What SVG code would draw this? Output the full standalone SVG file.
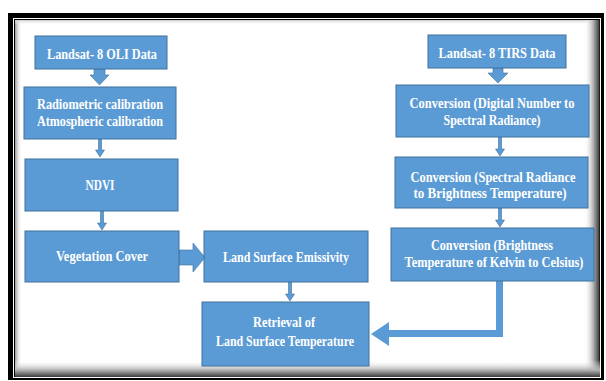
<svg xmlns="http://www.w3.org/2000/svg" width="606" height="381" viewBox="0 0 606 381">
<defs>
<style>
.box{fill:#5B9BD5;stroke:#41719C;stroke-width:1}
.arr{fill:#5B9BD5;stroke:#41719C;stroke-width:0.6}
.t{font-family:"Liberation Serif","Times New Roman",serif;font-weight:bold;font-size:14px;fill:#ffffff;text-anchor:middle}
</style>
<linearGradient id="gR" x1="0" y1="0" x2="1" y2="0">
<stop offset="0" stop-color="#ffffff" stop-opacity="0"/>
<stop offset="0.6" stop-color="#b0b0b0"/>
<stop offset="1" stop-color="#3a3a3a"/>
</linearGradient>
<linearGradient id="gB" x1="0" y1="0" x2="0" y2="1">
<stop offset="0" stop-color="#ffffff" stop-opacity="0"/>
<stop offset="0.6" stop-color="#b0b0b0"/>
<stop offset="1" stop-color="#3a3a3a"/>
</linearGradient>
<linearGradient id="gL" x1="1" y1="0" x2="0" y2="0">
<stop offset="0" stop-color="#ffffff" stop-opacity="0"/>
<stop offset="1" stop-color="#999999"/>
</linearGradient>
<linearGradient id="gT" x1="0" y1="1" x2="0" y2="0">
<stop offset="0" stop-color="#ffffff" stop-opacity="0"/>
<stop offset="1" stop-color="#cccccc"/>
</linearGradient>
</defs>
<rect x="0" y="0" width="606" height="381" fill="#ffffff"/>
<g id="frame">
<rect x="8" y="13" width="596" height="367" fill="#000000"/>
<rect x="13" y="18" width="588" height="360" fill="#ffffff"/>
<rect x="14.5" y="19.5" width="585" height="357" fill="#ffffff" stroke="#000000" stroke-width="1"/>
<rect x="15" y="20" width="7" height="356" fill="url(#gL)"/>
<rect x="15" y="20" width="584" height="5" fill="url(#gT)"/>
<rect x="584" y="20" width="15.5" height="357" fill="url(#gR)"/>
<rect x="15" y="360" width="585" height="17" fill="url(#gB)"/>
</g>
<g id="connectors">
<polygon class="arr" points="94,69 105,69 105,75 109,75 99.5,85 90,75 94,75"/>
<polygon class="arr" points="493,68 503,68 503,73 508,73 498,83 488,73 493,73"/>
<polygon class="arr" points="98.5,139 101.5,139 101.5,150 104.5,150 100,157 95.5,150 98.5,150"/>
<polygon class="arr" points="100.5,211 103.5,211 103.5,223 106.5,223 102,230 97.5,223 100.5,223"/>
<polygon class="arr" points="288.5,282 291.5,282 291.5,294 294.5,294 290,301 285.5,294 288.5,294"/>
<polygon class="arr" points="498.5,137 501.5,137 501.5,149 504.5,149 500,156 495.5,149 498.5,149"/>
<polygon class="arr" points="498.5,208 501.5,208 501.5,220 504.5,220 500,227 495.5,220 498.5,220"/>
<polygon class="arr" points="179,250 193,250 193,243 205,257.5 193,272 193,265 179,265"/>
<polyline points="499.5,281 499.5,333.5 386,333.5" fill="none" stroke="#5B9BD5" stroke-width="7"/>
<polygon points="371,334 389,322 389,346" fill="#5B9BD5"/>
</g>
<g id="n1"><rect class="box" x="35" y="36" width="132" height="33"/>
<text class="t" x="102" y="59" textLength="110" lengthAdjust="spacingAndGlyphs">Landsat- 8 OLI Data</text></g>
<g id="n2"><rect class="box" x="24" y="87" width="152" height="52"/>
<text class="t" x="100" y="109" textLength="126" lengthAdjust="spacingAndGlyphs">Radiometric calibration</text>
<text class="t" x="100" y="126" textLength="126" lengthAdjust="spacingAndGlyphs">Atmospheric calibration</text></g>
<g id="n3"><rect class="box" x="25" y="159" width="153" height="52"/>
<text class="t" x="100" y="190" textLength="29" lengthAdjust="spacingAndGlyphs">NDVI</text></g>
<g id="n4"><rect class="box" x="25" y="231" width="154" height="51"/>
<text class="t" x="102" y="261" textLength="92" lengthAdjust="spacingAndGlyphs">Vegetation Cover</text></g>
<g id="n5"><rect class="box" x="204" y="231" width="164" height="51"/>
<text class="t" x="286" y="262" textLength="126" lengthAdjust="spacingAndGlyphs">Land Surface Emissivity</text></g>
<g id="n6"><rect class="box" x="202" y="302" width="167" height="64"/>
<text class="t" x="284" y="327" textLength="62" lengthAdjust="spacingAndGlyphs">Retrieval of</text>
<text class="t" x="285" y="346" textLength="138" lengthAdjust="spacingAndGlyphs">Land Surface Temperature</text></g>
<g id="n7"><rect class="box" x="428" y="35" width="138" height="33"/>
<text class="t" x="497" y="58" textLength="117" lengthAdjust="spacingAndGlyphs">Landsat- 8 TIRS  Data</text></g>
<g id="n8"><rect class="box" x="396" y="85" width="193" height="52"/>
<text class="t" x="492" y="108" textLength="165" lengthAdjust="spacingAndGlyphs">Conversion (Digital Number to</text>
<text class="t" x="492" y="125" textLength="97" lengthAdjust="spacingAndGlyphs">Spectral Radiance)</text></g>
<g id="n9"><rect class="box" x="395" y="157" width="193" height="51"/>
<text class="t" x="493" y="182" textLength="165" lengthAdjust="spacingAndGlyphs">Conversion (Spectral Radiance</text>
<text class="t" x="490" y="198" textLength="153" lengthAdjust="spacingAndGlyphs">to Brightness Temperature)</text></g>
<g id="n10"><rect class="box" x="391" y="228" width="203" height="53"/>
<text class="t" x="492" y="250" textLength="122" lengthAdjust="spacingAndGlyphs">Conversion (Brightness</text>
<text class="t" x="494" y="267" textLength="179" lengthAdjust="spacingAndGlyphs">Temperature of Kelvin to Celsius)</text></g>
</svg>
